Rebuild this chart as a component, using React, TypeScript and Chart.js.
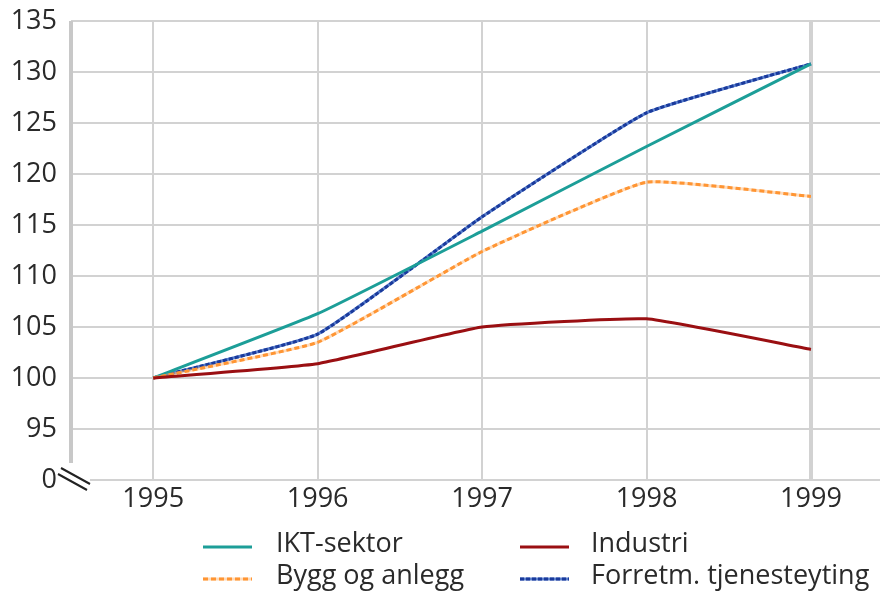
import React, { useEffect, useRef } from "react";
import { Chart, registerables } from "chart.js";

Chart.register(...registerables);

const YEARS = [1995, 1996, 1997, 1998, 1999];
const Y_TICKS = [90, 95, 100, 105, 110, 115, 120, 125, 130, 135];

const IKT = [100, 106.3, 114.4, 122.7, 130.8];
const INDUSTRI = [100, 101.4, 105.0, 105.8, 102.8];
const BYGG = [100, 103.5, 112.4, 119.2, 117.8];
const FORRETM = [100, 104.3, 115.8, 126.0, 130.8];

const LEGEND_ORDER = ["IKT-sektor", "Industri", "Bygg og anlegg", "Forretm. tjenesteyting"];

const FONT = "'Open Sans', 'Noto Sans', sans-serif";
const TEXT = "#2a2a2a";
const GRID = "#d2d2d2";

const underlayPlugin = {
  id: "underlay",
  beforeDatasetDraw(chart: any, args: any) {
    const ds = chart.data.datasets[args.index];
    if (!ds.underColor) return;
    const line = args.meta.dataset;
    const { ctx } = chart;
    ctx.save();
    ctx.strokeStyle = ds.underColor;
    ctx.lineWidth = ds.borderWidth;
    ctx.setLineDash([]);
    ctx.beginPath();
    line.path(ctx);
    ctx.stroke();
    ctx.restore();
  },
};

const decorPlugin = {
  id: "decor",
  afterDraw(chart: any) {
    const { ctx, chartArea } = chart;
    const yScale = chart.scales.y;
    const y0 = yScale.getPixelForValue(90);
    ctx.save();
    // bottom gridline (starts after the break)
    ctx.strokeStyle = GRID;
    ctx.lineWidth = 2;
    ctx.beginPath();
    ctx.moveTo(chartArea.left + 19, y0);
    ctx.lineTo(chartArea.right, y0);
    ctx.stroke();
    // thick y axis line
    ctx.strokeStyle = "#c8c8c8";
    ctx.lineWidth = 4;
    ctx.beginPath();
    ctx.moveTo(chartArea.left, chartArea.top);
    ctx.lineTo(chartArea.left, y0 - 17);
    ctx.stroke();
    // axis break symbol
    ctx.strokeStyle = "#222";
    ctx.lineWidth = 2;
    ctx.beginPath();
    ctx.moveTo(chartArea.left - 10, y0 - 12);
    ctx.lineTo(chartArea.left + 19, y0 + 4);
    ctx.moveTo(chartArea.left - 13, y0 - 6);
    ctx.lineTo(chartArea.left + 16, y0 + 10);
    ctx.stroke();

    // legend
    const cols = [
      { lx: 203, tx: 276 },
      { lx: 520, tx: 591 },
    ];
    const rows = [547, 579];
    LEGEND_ORDER.forEach((label, i) => {
      const ds = chart.data.datasets.find((d: any) => d.label === label);
      if (!ds) return;
      const c = cols[i % 2];
      const ry = rows[Math.floor(i / 2)];
      ctx.lineWidth = ds.borderWidth;
      if (ds.underColor) {
        ctx.strokeStyle = ds.underColor;
        ctx.setLineDash([]);
        ctx.beginPath();
        ctx.moveTo(c.lx, ry);
        ctx.lineTo(c.lx + 49, ry);
        ctx.stroke();
      }
      ctx.strokeStyle = ds.borderColor;
      ctx.setLineDash(ds.borderDash || []);
      ctx.beginPath();
      ctx.moveTo(c.lx, ry);
      ctx.lineTo(c.lx + 49, ry);
      ctx.stroke();
      ctx.setLineDash([]);
      ctx.fillStyle = TEXT;
      ctx.font = `27px ${FONT}`;
      ctx.textAlign = "left";
      ctx.textBaseline = "middle";
      ctx.fillText(label, c.tx, ry - 3);
    });
    ctx.restore();
  },
};

export default function App() {
  const ref = useRef<HTMLCanvasElement | null>(null);
  useEffect(() => {
    document.body.style.margin = "0";
    const canvas = ref.current;
    if (!canvas) return;
    const mk = (label: string, data: number[], color: string, dash: number[] = [], under?: string) => ({
      label,
      data: YEARS.map((x, i) => ({ x, y: data[i] })),
      borderColor: color,
      backgroundColor: color,
      borderWidth: 3,
      borderDash: dash,
      underColor: under,
      pointRadius: 0,
      tension: 0.12,
      fill: false,
    });
    const chart = new Chart(canvas, {
      type: "line",
      data: {
        datasets: [
          mk("Industri", INDUSTRI, "#9a0f12"),
          mk("Bygg og anlegg", BYGG, "#ff9533", [5, 3], "rgba(255,190,130,0.55)"),
          mk("IKT-sektor", IKT, "#1c9e98"),
          mk("Forretm. tjenesteyting", FORRETM, "#1a3a9c", [4, 2], "#5a7fcc"),
        ] as any,
      },
      options: {
        animation: false,
        responsive: false,
        layout: { padding: { top: 21, left: 0, right: 0, bottom: 0 } },
        plugins: { legend: { display: false }, tooltip: { enabled: false } },
        scales: {
          x: {
            type: "linear",
            min: 1994.5,
            max: 1999.42,
            afterBuildTicks: (s: any) => {
              s.ticks = YEARS.map((v) => ({ value: v }));
            },
            afterFit: (s: any) => {
              s.height = 111;
              s.paddingLeft = 0;
              s.paddingRight = 0;
            },
            border: { display: false },
            grid: {
              color: GRID,
              lineWidth: (c: any) => (c.tick && c.tick.value === 1999 ? 4 : 2),
              drawTicks: false,
            },
            ticks: {
              padding: 3,
              color: TEXT,
              font: { family: FONT, size: 27 },
              callback: (v: any) => String(v),
              maxRotation: 0,
            },
          },
          y: {
            type: "linear",
            min: 90,
            max: 135,
            afterBuildTicks: (s: any) => {
              s.ticks = Y_TICKS.map((v) => ({ value: v }));
            },
            afterFit: (s: any) => {
              s.width = 71;
              s.paddingTop = 0;
              s.paddingBottom = 0;
            },
            border: { display: false },
            grid: {
              color: (c: any) => (c.tick && c.tick.value === 90 ? "rgba(0,0,0,0)" : GRID),
              lineWidth: 2,
              drawTicks: false,
            },
            ticks: {
              padding: 14,
              color: TEXT,
              font: { family: FONT, size: 27 },
              callback: (v: any) => (v === 90 ? "0" : String(v)),
            },
          },
        },
      },
      plugins: [underlayPlugin, decorPlugin],
    });
    return () => chart.destroy();
  }, []);
  return (
    <div style={{ width: 880, height: 591, background: "#fff" }}>
      <canvas ref={ref} width={880} height={591} />
    </div>
  );
}
